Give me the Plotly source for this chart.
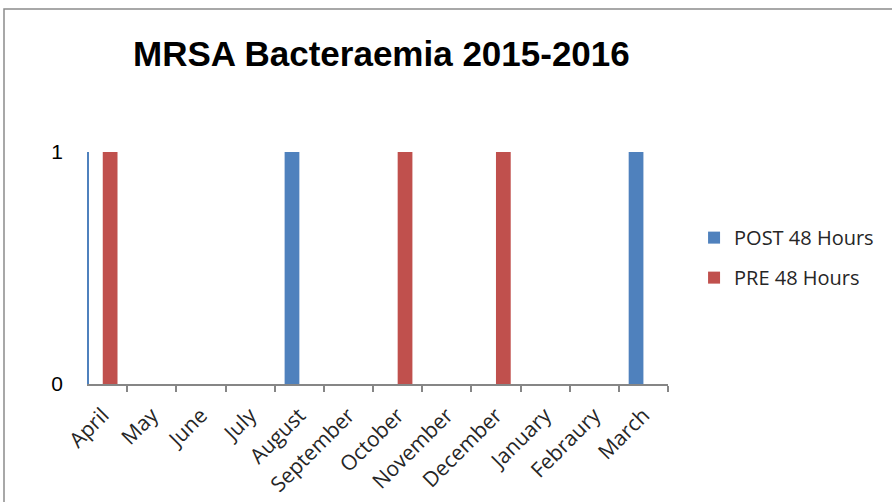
import plotly.graph_objects as go

# Monthly MRSA bacteraemia counts, financial year 2015-2016
months = ["April", "May", "June", "July", "August", "September", "October",
          "November", "December", "January", "Febraury", "March"]
post_48h = [0, 0, 0, 0, 1, 0, 0, 0, 0, 0, 0, 1]
pre_48h = [1, 0, 0, 0, 0, 0, 1, 0, 1, 0, 0, 0]
y_ticks = [0, 1]

BLUE = "#4F81BD"
RED = "#C0504D"

# plot area in pixels (used to place the frame and title)
W, H = 892, 502
L, R, T, B = 89, 224, 152, 118
pw, ph = W - L - R, H - T - B


def px_x(x):
    return (x - L) / pw


def px_y(y):
    return (H - B - y) / ph


fig = go.Figure()
fig.add_trace(go.Bar(x=months, y=post_48h, name="POST 48 Hours",
                     marker=dict(color=BLUE, line=dict(width=0)),
                     legendgroup="post"))
fig.add_trace(go.Bar(x=months, y=pre_48h, name="PRE 48 Hours",
                     marker=dict(color=RED, line=dict(width=0)),
                     legendgroup="pre"))

fig.update_layout(
    width=W, height=H,
    margin=dict(l=L, r=R, t=T, b=B, pad=0, autoexpand=False),
    paper_bgcolor="white", plot_bgcolor="white",
    barmode="group", bargap=0.4, bargroupgap=0,
    showlegend=True,
    legend=dict(x=1.045, xanchor="left", y=0.715, yanchor="top",
                font=dict(family="Open Sans", size=20, color="#262626"),
                tracegroupgap=11, bgcolor="rgba(0,0,0,0)"),
    annotations=[dict(text="<b>MRSA Bacteraemia 2015-2016</b>",
                      xref="paper", yref="paper",
                      x=px_x(381), y=px_y(53),
                      xanchor="center", yanchor="middle", showarrow=False,
                      font=dict(family="Liberation Sans", size=35, color="black"))],
    shapes=[dict(type="rect", xref="paper", yref="paper",
                 x0=px_x(4), x1=px_x(905), y0=px_y(515), y1=px_y(9),
                 line=dict(color="#8C8C8C", width=1.5), fillcolor="rgba(0,0,0,0)",
                 layer="above")],
)

fig.update_xaxes(type="category", range=[-0.28, 11.5], automargin=False,
                 showline=True, linecolor="#868686", linewidth=1.5,
                 ticks="outside", ticklen=6, tickcolor="#868686", tickwidth=1.5,
                 tickson="boundaries", tickangle=-45, showgrid=False,
                 ticklabelstandoff=9,
                 tickfont=dict(family="Open Sans", size=21, color="#262626"))
fig.update_yaxes(range=[0, 1], tickvals=y_ticks, ticktext=[str(v) for v in y_ticks],
                 automargin=False,
                 showline=True, linecolor=BLUE, linewidth=1.5,
                 showgrid=False, zeroline=False, ticks="",
                 ticklabelstandoff=20,
                 tickfont=dict(family="Liberation Sans", size=21, color="black"))

fig.write_html("out.html")
